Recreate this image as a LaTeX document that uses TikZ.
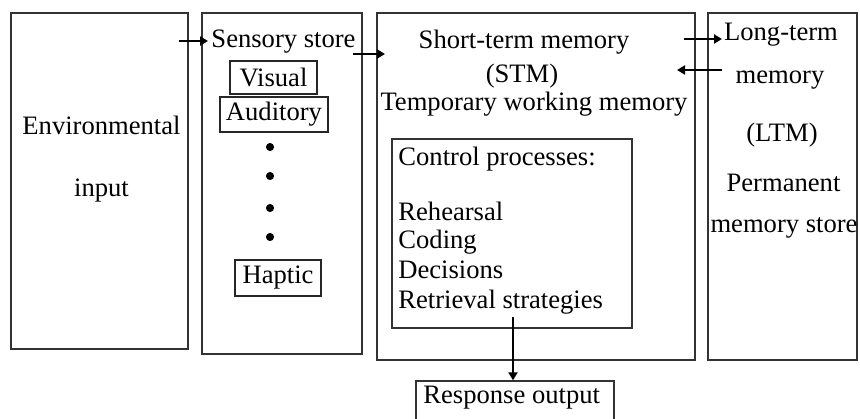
\documentclass[tikz,border=0pt]{standalone}
\usepackage{fontspec}
\setmainfont{Liberation Serif}
\usetikzlibrary{arrows.meta, positioning}

\begin{document}
\begin{tikzpicture}[x=0.5pt, y=-0.5pt,
  every node/.style={font=\fontsize{13.3}{15}\selectfont, inner sep=0pt}]
\tikzset{
  panel/.style={draw=black!80, line width=0.7pt},
  tag/.style={draw=black!85, line width=0.6pt},
  flow/.style={draw, line width=1pt, -{Triangle[length=4pt,width=4.5pt]}}
}
\clip (0,0) rectangle (860,418);

% the four stores
\node[panel, minimum width=88.5pt, minimum height=168pt] (env) at (99.5,181) {};
\node[panel, minimum width=80pt, minimum height=170.5pt] (sens) at (282,183.5) {};
\node[panel, minimum width=159pt, minimum height=173.5pt] (stm) at (536,186.5) {};
\node[panel, minimum width=74.5pt, minimum height=173.5pt] (ltm) at (782.5,186.5) {};

\node[anchor=base] (envA) at (101.5,134) {Environmental};
\node[anchor=base] (envB) at (101.5,196) {input};

% sensory store
\node[anchor=base] (sensA) at (283.5,47) {Sensory store};
\node[tag, minimum width=43.5pt, minimum height=16.5pt] (visual) at (273.5,77.5) {Visual};
\node[tag, minimum width=54pt, minimum height=17.5pt] (auditory) at (274,114.5) {Auditory};
\node[tag, minimum width=43pt, minimum height=18pt] (haptic) at (278,278) {Haptic};
\foreach \y in {147,176,208,237}
  \filldraw[black] (270,\y) circle [radius=1.8pt];

% short-term memory
\node[anchor=base] (stmA) at (524,48) {Short-term memory};
\node[anchor=base] (stmB) at (522,82) {(STM)};
\node[anchor=base] (stmC) at (534,110) {Temporary working memory};

\node[panel, minimum width=120pt, minimum height=94.5pt] (ctrl) at (512,233.5) {};
\node[anchor=base west] (ctrlA) at (398,165) {Control processes:};
\node[anchor=base west] (ctrlB) at (398,220) {Rehearsal};
\node[anchor=base west] (ctrlC) at (398,248) {Coding};
\node[anchor=base west] (ctrlD) at (398,278) {Decisions};
\node[anchor=base west] (ctrlE) at (398,308) {Retrieval strategies};

% long-term memory
\node[anchor=base] (ltmA) at (781,40) {Long-term};
\node[anchor=base] (ltmB) at (780,83) {memory};
\node[anchor=base] (ltmC) at (782,141) {(LTM)};
\node[anchor=base] (ltmD) at (783.5,191) {Permanent};
\node[anchor=base] (ltmE) at (784,232) {memory store};

% response
\node[panel, minimum width=99pt, minimum height=30pt] (resp) at (515,411) {};
\node[anchor=base west] (respA) at (423,403) {Response output};

% arrows between the stores
\coordinate (envout) at (179,41);
\coordinate (sensin) at (208,41);
\coordinate (sensout) at (353,54);
\coordinate (stmin) at (385,54);
\coordinate (stmout) at (684,39);
\coordinate (ltmin) at (722,39);
\coordinate (ltmout) at (722,70);
\coordinate (stmback) at (677,70);
\coordinate (ctrlout) at (513,317);

\draw[flow] (envout) -- (sensin);
\draw[flow] (sensout) -- (stmin);
\draw[flow] (stmout) -- (ltmin);
\draw[flow] (ltmout) -- (stmback);
\draw[flow] (ctrlout) -- (ctrlout |- resp.north);
\end{tikzpicture}
\end{document}
